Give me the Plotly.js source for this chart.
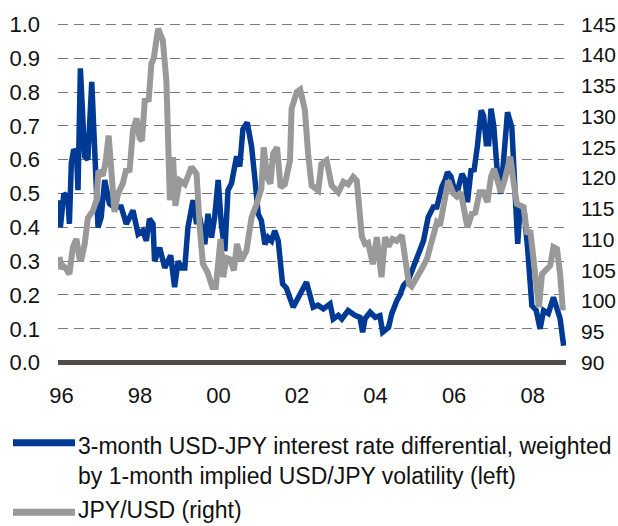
<!DOCTYPE html>
<html>
<head>
<meta charset="utf-8">
<script src="https://cdn.plot.ly/plotly-3.0.1.min.js"></script>
<style>
  html, body { margin: 0; padding: 0; background: #fff; }
  #chart { width: 618px; height: 526px; }
</style>
</head>
<body>
<div id="chart"></div>
<script>
// x values are decimal years
var diffYears = [1995.92, 1995.97, 1996.06, 1996.16, 1996.20, 1996.25, 1996.31, 1996.38, 1996.42, 1996.48,
  1996.59, 1996.67, 1996.77, 1996.84, 1996.93, 1997.01, 1997.10, 1997.22, 1997.33, 1997.52,
  1997.65, 1997.82, 1997.95, 1998.07, 1998.16, 1998.24, 1998.33, 1998.37, 1998.50, 1998.63,
  1998.78, 1998.88, 1998.97, 1999.06, 1999.14, 1999.22, 1999.35, 1999.44, 1999.52, 1999.65,
  1999.73, 1999.82, 1999.90, 1999.99, 2000.07, 2000.16, 2000.24, 2000.33, 2000.46, 2000.54,
  2000.62, 2000.73, 2000.84, 2000.92, 2001.01, 2001.09, 2001.18, 2001.26, 2001.35, 2001.43,
  2001.52, 2001.63, 2001.73, 2001.90, 2002.03, 2002.24, 2002.41, 2002.53, 2002.67, 2002.84,
  2002.92, 2003.05, 2003.14, 2003.30, 2003.47, 2003.60, 2003.67, 2003.73, 2003.86, 2003.99,
  2004.11, 2004.18, 2004.33, 2004.41, 2004.54, 2004.62, 2004.71, 2004.83, 2004.96, 2005.09,
  2005.22, 2005.34, 2005.47, 2005.56, 2005.69, 2005.77, 2005.83, 2005.92, 2006.00, 2006.07,
  2006.20, 2006.28, 2006.34, 2006.43, 2006.51, 2006.59, 2006.69, 2006.75, 2006.82, 2006.88,
  2006.94, 2007.01, 2007.09, 2007.19, 2007.26, 2007.36, 2007.47, 2007.53, 2007.62, 2007.68,
  2007.79, 2007.87, 2007.98, 2008.09, 2008.19, 2008.28, 2008.40, 2008.53, 2008.62, 2008.70,
  2008.79];
var diffValues = [0.48, 0.40, 0.50, 0.49, 0.41, 0.59, 0.63, 0.62, 0.51, 0.87,
  0.61, 0.60, 0.83, 0.62, 0.40, 0.43, 0.54, 0.47, 0.46, 0.46,
  0.41, 0.45, 0.38, 0.39, 0.36, 0.425, 0.41, 0.30, 0.34, 0.28,
  0.317, 0.223, 0.30, 0.28, 0.28, 0.40, 0.48, 0.41, 0.43, 0.35,
  0.44, 0.37, 0.43, 0.54, 0.41, 0.33, 0.51, 0.53, 0.61, 0.58,
  0.69, 0.71, 0.64, 0.55, 0.44, 0.42, 0.35, 0.37, 0.36, 0.39,
  0.36, 0.233, 0.22, 0.164, 0.193, 0.238, 0.164, 0.17, 0.159, 0.174,
  0.129, 0.14, 0.129, 0.154, 0.14, 0.134, 0.09, 0.13, 0.149, 0.134,
  0.139, 0.09, 0.104, 0.144, 0.183, 0.20, 0.228, 0.243, 0.282, 0.32,
  0.36, 0.43, 0.46, 0.46, 0.52, 0.54, 0.563, 0.55, 0.514, 0.50,
  0.558, 0.54, 0.474, 0.568, 0.57, 0.637, 0.746, 0.73, 0.647, 0.647,
  0.751, 0.70, 0.578, 0.499, 0.617, 0.74, 0.696, 0.558, 0.351, 0.46,
  0.44, 0.341, 0.169, 0.155, 0.10, 0.154, 0.145, 0.193, 0.154, 0.13,
  0.05];

var fxYears = [1995.95, 1995.99, 1996.03, 1996.10, 1996.20, 1996.25, 1996.29, 1996.38, 1996.46, 1996.51,
  1996.59, 1996.67, 1996.80, 1996.89, 1996.94, 1997.05, 1997.12, 1997.20, 1997.28, 1997.35,
  1997.44, 1997.56, 1997.65, 1997.73, 1997.82, 1997.91, 1997.99, 1998.05, 1998.12, 1998.22,
  1998.29, 1998.35, 1998.46, 1998.58, 1998.67, 1998.71, 1998.76, 1998.84, 1998.90, 1999.01,
  1999.14, 1999.31, 1999.44, 1999.52, 1999.60, 1999.73, 1999.84, 1999.93, 1999.99, 2000.05,
  2000.12, 2000.20, 2000.29, 2000.39, 2000.47, 2000.58, 2000.71, 2000.84, 2000.97, 2001.09,
  2001.15, 2001.24, 2001.32, 2001.39, 2001.49, 2001.58, 2001.69, 2001.82, 2001.86, 2001.99,
  2002.08, 2002.20, 2002.28, 2002.37, 2002.54, 2002.62, 2002.75, 2002.88, 2003.05, 2003.18,
  2003.30, 2003.43, 2003.52, 2003.65, 2003.73, 2003.81, 2003.93, 2004.03, 2004.15, 2004.24,
  2004.33, 2004.43, 2004.54, 2004.67, 2004.75, 2004.85, 2004.92, 2005.05, 2005.18, 2005.31,
  2005.39, 2005.47, 2005.56, 2005.64, 2005.73, 2005.81, 2005.85, 2005.98, 2006.07, 2006.17,
  2006.26, 2006.34, 2006.45, 2006.54, 2006.65, 2006.75, 2006.85, 2006.94, 2007.02, 2007.09,
  2007.19, 2007.30, 2007.43, 2007.51, 2007.60, 2007.77, 2007.86, 2007.94, 2008.07, 2008.16,
  2008.24, 2008.37, 2008.45, 2008.53, 2008.62, 2008.70, 2008.77];
var fxValues = [107.2, 105.2, 105.8, 105.4, 104.4, 108.2, 108.8, 110.1, 106.9, 106.9,
  109.3, 113.5, 114.7, 116.4, 121.2, 120.4, 122.5, 126.9, 119.5, 114.5,
  117.5, 119.1, 121.5, 121.0, 127.8, 129.7, 126.5, 126.1, 132.6, 132.8,
  138.6, 139.5, 144.3, 142.4, 135.9, 126.0, 116.4, 123.4, 115.5, 119.6,
  119.0, 121.8, 120.7, 112.0, 106.1, 104.5, 102.3, 102.3, 106.6, 110.1,
  103.9, 107.0, 106.8, 105.0, 109.3, 106.6, 108.2, 113.6, 115.8, 118.3,
  125.0, 120.1, 119.1, 124.0, 125.0, 118.5, 119.0, 122.9, 131.3, 134.0,
  134.4, 131.0, 124.0, 118.8, 118.0, 122.3, 122.9, 118.8, 117.7, 119.4,
  119.0, 120.2, 119.6, 110.5, 109.3, 109.5, 106.0, 110.4, 103.9, 110.4,
  108.9, 110.1, 109.8, 110.7, 107.1, 102.8, 102.4, 103.7, 105.3, 106.9,
  108.8, 111.3, 112.8, 112.3, 115.0, 118.0, 119.6, 117.5, 117.0, 117.7,
  114.5, 112.0, 114.2, 114.4, 117.7, 117.7, 116.1, 120.2, 121.5, 119.5,
  117.7, 120.0, 123.5, 119.6, 115.8, 115.3, 110.9, 111.5, 104.4, 99.0,
  104.4, 105.5, 105.8, 108.8, 108.5, 104.4, 98.5];

var tickYears = [1996, 1998, 2000, 2002, 2004, 2006, 2008];
var tickLabels = ['96', '98', '00', '02', '04', '06', '08'];

var legendNames = [
  '3-month USD-JPY interest rate differential, weighted<br>by 1-month implied USD/JPY volatility (left)',
  'JPY/USD (right)'
];

var blue = '#003a94';
var grey = '#999999';
var ink = '#111111';
var fontFamily = '"Liberation Sans", Arial, Helvetica, sans-serif';

var traces = [
  {
    x: diffYears, y: diffValues, type: 'scatter', mode: 'lines',
    line: { color: blue, width: 5.5 }, yaxis: 'y', showlegend: false
  },
  {
    x: fxYears, y: fxValues, type: 'scatter', mode: 'lines',
    line: { color: grey, width: 6 }, yaxis: 'y2', showlegend: false
  }
];

// page pixels -> paper coords (plot area: x 58..566, y 24 (1.0) .. 362 (0.0))
function py(p) { return (362 - p) / 338; }
function px(p) { return (p - 58) / 508; }

function legendText(txt, yPix) {
  return {
    xref: 'paper', yref: 'paper', x: px(76), y: py(yPix), xanchor: 'left', yanchor: 'middle',
    align: 'left', showarrow: false, text: txt, font: { size: 23, color: ink }
  };
}

var layout = {
  width: 618,
  height: 526,
  margin: { l: 58, r: 52, t: 23, b: 162 },
  paper_bgcolor: '#fff',
  plot_bgcolor: '#fff',
  font: { family: fontFamily, size: 22, color: ink },
  showlegend: false,
  xaxis: {
    range: [1995.91, 2008.85],
    tickvals: tickYears,
    ticktext: tickLabels,
    showgrid: false,
    zeroline: false,
    showline: false,
    ticks: '',
    ticklabelstandoff: 16,
    tickfont: { size: 22 }
  },
  yaxis: {
    range: [-0.004, 1.004],
    dtick: 0.1,
    tick0: 0,
    tickformat: '.1f',
    showgrid: true,
    gridcolor: '#777777',
    gridwidth: 1,
    griddash: '10px,6px',
    zeroline: true,
    zerolinecolor: '#4e4b48',
    zerolinewidth: 5,
    ticks: '',
    ticklabelstandoff: 17,
    tickfont: { size: 22 }
  },
  yaxis2: {
    overlaying: 'y',
    side: 'right',
    range: [89.78, 145.22],
    dtick: 5,
    tick0: 90,
    showgrid: false,
    zeroline: false,
    ticks: '',
    ticklabelstandoff: 14,
    tickfont: { size: 21 }
  },
  shapes: [
    { type: 'line', xref: 'paper', yref: 'paper', x0: px(13), x1: px(75), y0: py(440), y1: py(440),
      line: { color: blue, width: 7 } },
    { type: 'line', xref: 'paper', yref: 'paper', x0: px(13), x1: px(75), y0: py(509), y1: py(509),
      line: { color: grey, width: 7 } }
  ],
  annotations: [
    legendText(legendNames[0], 458),
    legendText(legendNames[1], 507)
  ]
};

Plotly.newPlot('chart', traces, layout, { displayModeBar: false, staticPlot: true });
</script>
</body>
</html>
